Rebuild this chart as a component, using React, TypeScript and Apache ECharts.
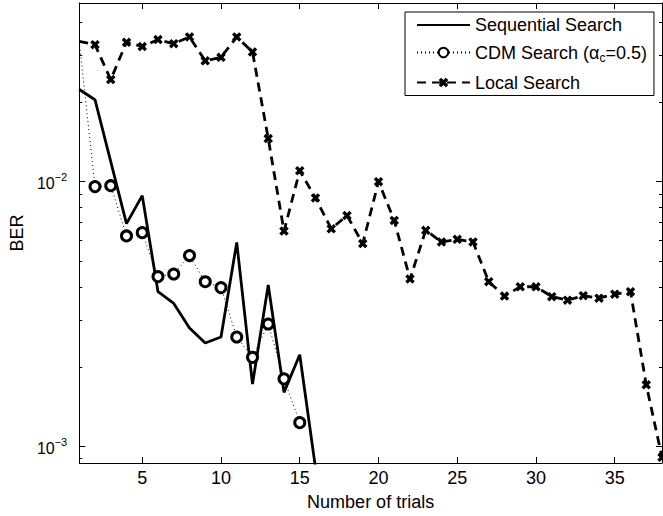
import React, { useEffect, useRef } from 'react';
import * as echarts from 'echarts';

// ---- data ----
const trials = [1, 2, 3, 4, 5, 6, 7, 8, 9, 10, 11, 12, 13, 14, 15, 16, 17, 18, 19, 20,
  21, 22, 23, 24, 25, 26, 27, 28, 29, 30, 31, 32, 33, 34, 35, 36, 37, 38];

const sequentialBER = [0.0223, 0.0204, 0.0119, 0.00694, 0.00886, 0.00384, 0.00347, 0.0028,
  0.00246, 0.00259, 0.0059, 0.00172, 0.00407, 0.0016, 0.00222, 0.00083];

const cdmBER = [0.0338, 0.00958, 0.00966, 0.00624, 0.00642, 0.00438, 0.00448, 0.00526,
  0.00419, 0.00398, 0.00259, 0.00217, 0.0029, 0.0018, 0.00123];

const localBER = [0.0339, 0.0329, 0.0243, 0.0336, 0.0324, 0.0344, 0.0332, 0.0352, 0.0286,
  0.0295, 0.0352, 0.0309, 0.01455, 0.00651, 0.011, 0.00868, 0.00664, 0.00745, 0.00584,
  0.01, 0.00714, 0.00429, 0.00655, 0.00592, 0.00606, 0.00592, 0.00419, 0.0037, 0.00401,
  0.00401, 0.00368, 0.00357, 0.00371, 0.00363, 0.00376, 0.00384, 0.00171, 0.00091];

const seriesNames = ['Sequential Search', 'CDM Search (αc=0.5)', 'Local Search'];

const xTicks = [5, 10, 15, 20, 25, 30, 35];
const yMajorTicks = [0.001, 0.01];
const yMinorTicks = [0.0009, 0.002, 0.003, 0.004, 0.005, 0.006, 0.007, 0.008, 0.009, 0.02, 0.03, 0.04];

const xRange = [1, 38];
const yRange = [0.000866, 0.0473];

export default function App() {
  const ref = useRef<HTMLDivElement>(null);

  useEffect(() => {
    document.body.style.margin = '0';
    const chart = echarts.init(ref.current as HTMLDivElement, null, { renderer: 'svg' });
    const font = "'Liberation Sans', Arial, Helvetica, sans-serif";
    const black = '#000';
    const xMark = 'path://M0,2.5 L2.5,0 L5,2.5 L7.5,0 L10,2.5 L7.5,5 L10,7.5 L7.5,10 L5,7.5 L2.5,10 L0,7.5 L2.5,5 Z';

    const toPairs = (vals: number[]) => vals.map((v, i) => [trials[i], v]);

    const xBase: any = {
      type: 'value', min: xRange[0], max: xRange[1],
      splitLine: { show: false },
      axisLine: { show: true, onZero: false, lineStyle: { color: black, width: 1 } },
    };
    const yBase: any = {
      type: 'log', logBase: 10, min: yRange[0], max: yRange[1],
      splitLine: { show: false },
      axisLine: { show: true, onZero: false, lineStyle: { color: black, width: 1 } },
    };
    const majorTick = (vals: number[]) => ({ show: true, inside: true, length: 6, customValues: vals, lineStyle: { color: black, width: 1 } });
    const minorTick = (vals: number[]) => ({ show: true, inside: true, length: 3, customValues: vals, lineStyle: { color: black, width: 1 } });

    chart.setOption({
      animation: false,
      backgroundColor: '#fff',
      textStyle: { fontFamily: font, color: black },
      grid: { left: 76, right: 1, top: 3, bottom: 50, containLabel: false },
      xAxis: [
        {
          ...xBase, position: 'bottom',
          name: 'Number of trials', nameLocation: 'middle', nameGap: 30,
          nameTextStyle: { fontSize: 18, color: black, fontFamily: font },
          axisTick: majorTick(xTicks),
          axisLabel: { customValues: xTicks, fontSize: 18, color: black, margin: 6, fontFamily: font },
        },
        {
          ...xBase, position: 'top',
          axisTick: majorTick(xTicks),
          axisLabel: { show: false },
        },
      ],
      yAxis: [
        {
          ...yBase, position: 'left',
          name: 'BER', nameLocation: 'middle', nameGap: 51,
          nameTextStyle: { fontSize: 18, color: black, fontFamily: font },
          axisTick: majorTick(yMajorTicks),
          axisLabel: {
            customValues: yMajorTicks, margin: 12, color: black, fontFamily: font,
            formatter: (v: number) => `{b|10}{s|−${Math.abs(Math.round(Math.log10(v)))}}`,
            rich: {
              b: { fontSize: 16, fontFamily: font, color: black, padding: [4, 0, 0, 0] },
              s: { fontSize: 11, fontFamily: font, color: black, verticalAlign: 'top' },
            },
          },
        },
        { ...yBase, position: 'left', axisLine: { show: false }, axisTick: minorTick(yMinorTicks), axisLabel: { show: false } },
        { ...yBase, position: 'right', axisTick: majorTick(yMajorTicks), axisLabel: { show: false } },
        { ...yBase, position: 'right', axisLine: { show: false }, axisTick: minorTick(yMinorTicks), axisLabel: { show: false } },
      ],
      legend: {
        orient: 'vertical', left: 405, top: 12,
        padding: [4, 7, 4, 11], itemGap: 9.5, itemWidth: 53, itemHeight: 12,
        borderColor: black, borderWidth: 1, backgroundColor: '#fff',
        data: [
          { name: seriesNames[0], itemStyle: { opacity: 0 } },
          { name: seriesNames[1] },
          { name: seriesNames[2] },
        ],
        textStyle: {
          fontSize: 18, color: black, fontFamily: font,
          rich: { sub: { fontSize: 12, fontFamily: font, color: black, padding: [11, 0, 0, 0] } },
        },
        formatter: (name: string) => (name === seriesNames[1] ? 'CDM Search (α{sub|c}=0.5)' : name),
      },
      series: [
        {
          name: seriesNames[0], type: 'line', data: toPairs(sequentialBER),
          symbol: 'none', showSymbol: false, clip: true, z: 3,
          lineStyle: { color: black, width: 2.8, type: 'solid' },
          itemStyle: { color: black },
        },
        {
          name: seriesNames[1], type: 'line', data: toPairs(cdmBER),
          symbol: 'circle', clip: true, z: 4,
          symbolSize: (_v: any, p: any) => (p.dataIndex === 0 ? 0 : 10),
          lineStyle: { color: black, width: 1, type: [1, 3] },
          itemStyle: { color: '#fff', borderColor: black, borderWidth: 3 },
        },
        {
          name: seriesNames[2], type: 'line', data: toPairs(localBER),
          symbol: xMark, clip: true, z: 5,
          symbolSize: (_v: any, p: any) => (p.dataIndex === 0 ? 0 : 9.5),
          lineStyle: { color: black, width: 2.8, type: [9, 6] },
          itemStyle: { color: black, borderWidth: 0 },
        },
      ],
    });
    return () => chart.dispose();
  }, []);

  return <div ref={ref} style={{ position: 'absolute', left: 0, top: 0, width: 663, height: 516 }} />;
}
